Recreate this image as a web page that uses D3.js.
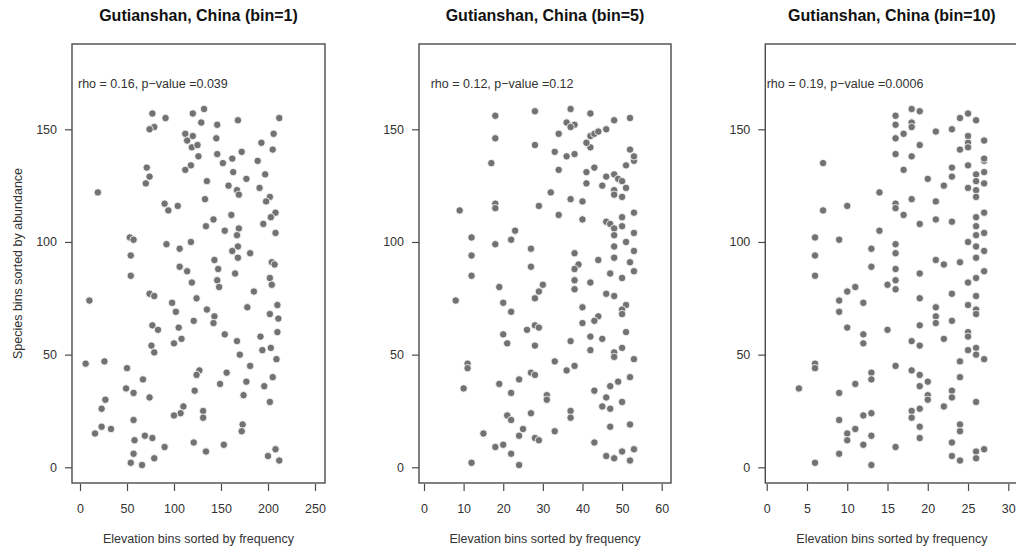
<!DOCTYPE html>
<html>
<head>
<meta charset="utf-8">
<script src="https://cdn.jsdelivr.net/npm/d3@7"></script>
<style>
  body { margin: 0; background: #fff; }
  text { font-family: "Liberation Sans", Arial, Helvetica, sans-serif; }
</style>
</head>
<body>
<div id="chart"></div>
<script>
// titles + stats text
var titles = ["Gutianshan, China (bin=1)", "Gutianshan, China (bin=5)", "Gutianshan, China (bin=10)"];
var statsText = ["rho = 0.16, p\u2212value =0.039", "rho = 0.12, p\u2212value =0.12", "rho = 0.19, p\u2212value =0.0006"];

var xTicks1 = [0, 50, 100, 150, 200, 250];
var xTicks5 = [0, 10, 20, 30, 40, 50, 60];
var xTicks10 = [0, 5, 10, 15, 20, 25, 30];
var yTicks = [0, 50, 100, 150];

var xLabel = "Elevation bins sorted by frequency";
var yLabel = "Species bins sorted by abundance";

// bin=1
var bin1X = [77,91,120,132,129,146,168,212,206,79,74,112,120,145,193,114,119,125,205,146,
  126,172,162,152,189,118,112,71,74,70,163,197,177,135,158,167,169,191,19,202,
  198,133,90,94,104,208,203,161,142,134,154,169,167,195,208,53,57,118,92,106,
  168,162,181,168,54,143,204,207,106,114,147,165,54,202,146,119,204,148,185,74,
  79,124,10,98,210,178,135,102,143,142,202,211,121,77,83,105,154,210,192,108,
  167,76,100,203,194,79,170,6,26,209,181,50,127,124,156,205,67,177,149,196,
  49,57,122,74,174,27,202,110,23,131,131,107,100,57,173,172,23,33,16,69,
  77,58,121,153,90,208,134,57,200,79,212,54,66];
var bin1Y = [157,155,157,159,153,152,154,155,148,151,150,148,147,146,144,145,142,143,141,139,
  138,140,137,135,136,134,132,133,129,126,131,130,128,127,125,123,121,124,122,120,
  118,119,117,114,116,113,111,112,110,107,105,106,103,108,104,102,101,100,99,97,
  98,96,95,93,94,92,91,90,89,87,88,86,85,84,83,82,81,80,78,77,
  76,75,74,73,72,71,70,69,67,64,68,66,65,63,61,62,59,60,58,57,
  56,54,55,53,52,51,50,46,47,48,45,44,43,41,42,40,39,38,37,36,
  35,33,34,31,32,30,29,27,26,25,22,24,23,21,19,16,18,17,15,14,
  13,12,11,10,9,8,7,6,5,4,3,2,1];

// bin=5
var bin5X = [18,28,37,42,36,38,37,48,52,34,42,43,44,46,18,42,41,28,33,36,
  38,52,53,53,51,17,34,43,41,46,48,49,50,41,45,51,48,48,32,50,
  37,40,18,18,29,9,53,34,50,40,46,47,48,50,23,53,48,12,22,51,
  18,48,27,53,38,12,48,44,52,39,38,27,53,47,50,12,38,42,30,29,
  28,19,38,46,48,8,20,40,51,22,50,50,40,44,43,28,29,26,20,51,
  42,45,37,21,28,50,42,48,48,11,11,33,53,38,36,27,28,52,24,19,
  49,47,10,43,22,31,31,46,50,45,47,27,21,22,37,37,47,52,25,33,
  15,24,28,29,43,18,20,53,50,22,46,48,52,12,24];
var bin5Y = [156,158,159,157,153,152,151,154,155,148,147,148,149,150,146,142,144,143,140,138,
  139,141,136,138,134,135,132,133,131,129,130,128,127,126,125,124,123,121,122,120,
  119,118,117,115,116,114,113,112,111,110,109,108,106,107,105,104,103,102,101,100,
  99,98,97,96,95,94,93,92,91,90,88,89,87,86,84,85,83,82,81,78,
  75,80,79,77,76,74,73,71,72,69,70,68,64,67,65,63,62,61,59,60,
  58,57,56,55,54,53,52,51,49,46,44,47,48,45,43,42,41,40,39,37,
  38,36,35,34,33,32,30,31,29,27,26,24,23,21,25,22,18,19,17,16,
  15,14,13,12,11,9,10,8,7,6,5,4,3,2,1];

// bin=10
var bin10X = [16,18,19,18,18,16,17,16,21,23,24,25,26,25,27,25,25,24,19,16,
  18,27,27,25,23,7,17,26,26,27,23,20,27,22,25,26,26,14,18,21,
  16,16,10,7,27,17,26,21,23,19,26,26,14,27,6,9,25,16,26,13,
  27,16,6,26,21,24,22,13,16,27,19,6,26,16,25,15,16,11,10,23,
  26,19,9,12,25,21,26,9,21,21,26,23,10,19,15,12,12,25,25,22,
  18,19,26,26,25,27,24,6,6,16,18,13,13,19,24,20,11,19,4,23,
  23,9,20,20,26,22,18,18,13,12,19,9,24,24,19,11,10,10,13,19,
  23,12,16,27,26,26,9,23,24,6,13];
var bin10Y = [156,159,158,153,151,152,148,146,149,150,155,157,154,147,145,144,142,141,143,139,
  138,136,137,134,133,135,132,130,127,131,129,128,126,125,124,123,120,122,119,118,
  117,115,116,114,113,112,111,110,109,108,107,103,105,104,102,101,100,99,98,97,
  96,95,94,93,92,91,90,89,88,87,86,85,84,83,82,81,79,80,78,77,
  76,75,74,73,72,71,70,69,67,64,68,65,62,63,61,59,55,60,58,57,
  56,54,53,50,52,48,47,46,44,45,43,42,39,41,40,38,37,36,35,34,
  31,33,32,30,29,27,25,22,24,23,26,21,19,16,18,17,15,12,14,13,
  11,10,9,8,7,4,6,5,3,2,1];

var width = 1016, height = 550;
var boxTop = 44, boxBottom = 483;

// pixel layout of each panel: box edges and where first/last tick sit
var panels = [
  {xs: bin1X, ys: bin1Y, ticks: xTicks1, left: 72, right: 325, r0: 80, r1: 315, statX: 78},
  {xs: bin5X, ys: bin5Y, ticks: xTicks5, left: 419, right: 671, r0: 424, r1: 661.7, statX: 430.7},
  {xs: bin10X, ys: bin10Y, ticks: xTicks10, left: 765.3, right: 1018.5, r0: 766.7, r1: 1008.3, statX: 766.7}
];

var svg = d3.select("#chart").append("svg")
  .attr("width", width)
  .attr("height", height);

var y = d3.scaleLinear()
  .domain([yTicks[0], yTicks[yTicks.length - 1]])
  .range([467.3, 129.3]);

panels.forEach(function(p, i) {
  var x = d3.scaleLinear()
    .domain([p.ticks[0], p.ticks[p.ticks.length - 1]])
    .range([p.r0, p.r1]);

  var g = svg.append("g");

  // points
  g.append("g").selectAll("circle")
    .data(d3.range(p.xs.length))
    .enter().append("circle")
      .attr("cx", function(k) { return x(p.xs[k]); })
      .attr("cy", function(k) { return y(p.ys[k]); })
      .attr("r", 3.7)
      .attr("fill", "#727272")
      .attr("stroke", "#fff")
      .attr("stroke-width", 0.8);

  // box
  g.append("rect")
    .attr("x", p.left).attr("y", boxTop)
    .attr("width", p.right - p.left).attr("height", boxBottom - boxTop)
    .attr("fill", "none")
    .attr("stroke", "#4a4a4a")
    .attr("stroke-width", 1.4);

  // x axis
  var xAxis = d3.axisBottom(x).tickValues(p.ticks).tickSize(7).tickPadding(13);
  var gx = g.append("g")
    .attr("transform", "translate(0," + (boxBottom + 1) + ")")
    .call(xAxis);
  gx.select(".domain").remove();
  gx.selectAll("line").attr("stroke", "#4a4a4a").attr("stroke-width", 1.2);
  gx.selectAll("text").attr("fill", "#333").style("font-size", "12.5px")
    .style("font-family", '"Liberation Sans", Arial, sans-serif');

  // y axis
  var yAxis = d3.axisLeft(y).tickValues(yTicks).tickSize(7).tickPadding(8);
  var gy = g.append("g")
    .attr("transform", "translate(" + p.left + ",0)")
    .call(yAxis);
  gy.select(".domain").remove();
  gy.selectAll("line").attr("stroke", "#4a4a4a").attr("stroke-width", 1.2);
  gy.selectAll("text").attr("fill", "#333").style("font-size", "12.5px")
    .style("font-family", '"Liberation Sans", Arial, sans-serif');

  // title
  g.append("text")
    .attr("x", (p.left + p.right) / 2)
    .attr("y", 20.5)
    .attr("text-anchor", "middle")
    .style("font-size", "16px")
    .style("font-weight", "bold")
    .attr("fill", "#111")
    .text(titles[i]);

  // stats
  g.append("text")
    .attr("x", p.statX)
    .attr("y", 87.5)
    .style("font-size", "12.5px")
    .attr("fill", "#333")
    .text(statsText[i]);

  // x label
  g.append("text")
    .attr("x", (p.left + p.right) / 2)
    .attr("y", 542.5)
    .attr("text-anchor", "middle")
    .style("font-size", "12.5px")
    .attr("fill", "#333")
    .text(xLabel);
});

// y label only on first panel
svg.append("text")
  .attr("transform", "translate(22," + (boxTop + boxBottom) / 2 + ") rotate(-90)")
  .attr("text-anchor", "middle")
  .style("font-size", "12.5px")
  .attr("fill", "#333")
  .text(yLabel);
</script>
</body>
</html>
